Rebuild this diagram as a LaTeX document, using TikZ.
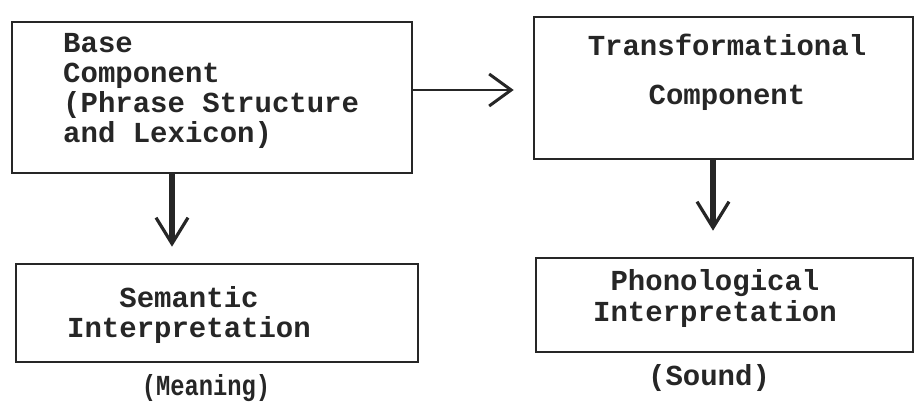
\documentclass[tikz,border=0pt]{standalone}
\usepackage{fontspec}
\setmonofont{Liberation Mono}
\usetikzlibrary{arrows.meta}
\definecolor{ink}{gray}{0.15}
\newcommand\twfont{\ttfamily\bfseries\fontsize{29}{30}\selectfont}
\begin{document}
\begin{tikzpicture}[x=1pt,y=-1pt,
  box/.style={draw=ink, line width=2.6pt, inner sep=0pt},
  txt/.style={font=\twfont, text=ink, inner sep=0pt},
  thin arrow/.style={draw=ink, line width=2.6pt, -{Straight Barb[length=22pt,width=32pt,line width=3pt]}},
  thick arrow/.style={draw=ink, line width=5.5pt, -{Straight Barb[length=26pt,width=32pt,line width=3.2pt]}}]
\useasboundingbox (0,0) rectangle (917,405);
% boxes
\node[box, minimum width=400pt, minimum height=151pt] (base) at (212,97.5) {};
\node[box, minimum width=379pt, minimum height=142pt] (trans) at (723.5,88) {};
\node[box, minimum width=402pt, minimum height=98pt] (sem) at (217,313) {};
\node[box, minimum width=377pt, minimum height=94pt] (phon) at (724.5,305) {};
% texts (anchor=base is the baseline of the last line)
\node[txt, anchor=base west, align=left, font=\ttfamily\bfseries\fontsize{29}{29.7}\selectfont] (basetxt) at (63,142) {Base\\Component\\(Phrase Structure\\and Lexicon)};
\node[txt, anchor=base, align=center, font=\ttfamily\bfseries\fontsize{29}{49}\selectfont] (transtxt) at (727,104) {Transformational\\Component};
\node[txt, anchor=base, align=center] (semtxt) at (189,337) {Semantic\\Interpretation};
\node[txt, anchor=base, align=center, font=\ttfamily\bfseries\fontsize{29}{31}\selectfont] (phontxt) at (715,321) {Phonological\\Interpretation};
\node[txt, anchor=base, xscale=0.82] (meaning) at (206,395) {(Meaning)};
\node[txt, anchor=base] (sound) at (709,385) {(Sound)};
% connectors
\draw[thin arrow, shorten >=19pt] ([yshift=7.5pt]base.east) -- ([yshift=-2pt]trans.west);
\draw[thick arrow, shorten >=16pt] ([xshift=-40pt]base.south) -- ([xshift=-45pt]sem.north);
\draw[thick arrow, shorten >=26pt] ([xshift=-10.5pt]trans.south) -- ([xshift=-11.5pt]phon.north);
\end{tikzpicture}
\end{document}
